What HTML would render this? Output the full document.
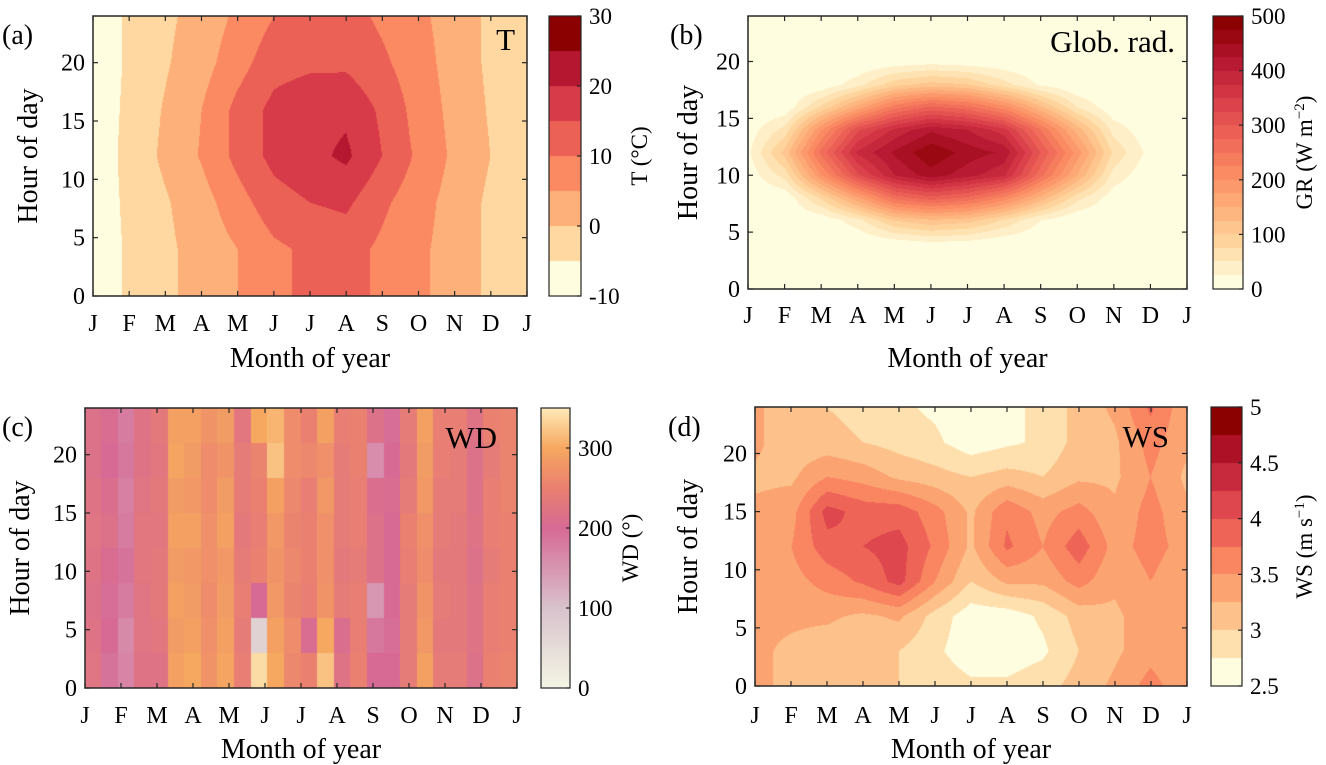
<!DOCTYPE html>
<html><head><meta charset="utf-8">
<style>
body{margin:0;background:#fff;width:1326px;height:765px;overflow:hidden;position:relative;font-family:"Liberation Serif",serif;color:#000}
svg{position:absolute;left:0;top:0}
canvas{position:absolute}
</style></head><body>
<canvas id="cA"></canvas>
<canvas id="cB"></canvas>
<canvas id="cC"></canvas>
<canvas id="cD"></canvas>
<canvas id="kA"></canvas>
<canvas id="kB"></canvas>
<canvas id="kC"></canvas>
<canvas id="kD"></canvas>
<svg id="ov" width="1326" height="765"></svg>
<script>
const months=["J","F","M","A","M","J","J","A","S","O","N","D","J"];
const hourTicks=[0,5,10,15,20];
// T: rows = months J..J, values at hours 0,4,8,12,16,20,24
const tHours=[0,4,8,12,16,20,24];
const tVals=[
[-9,-9,-9,-9,-9,-9,-9],
[-4,-4,-3.5,-3,-3.5,-4,-4],
[-1,-1,-0.5,1,0.5,-0.5,-1],
[2,2,3,5.5,5,3,2],
[5,5,8,11.5,11.5,8,6],
[9,9,13,16.5,16.5,13,10],
[11,11,15,18.5,18.5,14,12],
[12,12,16,21,19,14,12],
[9,9,11,15,14,11,9],
[6,6,7,9,8,7,6],
[3,3,3,4,3.5,3,3],
[-1,-1,-1,0,-0.5,-1,-1],
[-3.5,-3.5,-3.5,-3.5,-3.5,-3.5,-3.5]];
const tTicks=[-10,0,10,20,30];
// GR at hours 0,2,...,24
const gHours=[0,2,4,6,8,10,12,14,16,18,20,22,24];
const gVals=[
[0,0,0,0,0,10,20,10,0,0,0,0,0],
[0,0,0,0,5,60,110,60,5,0,0,0,0],
[0,0,0,5,80,200,260,200,80,5,0,0,0],
[0,0,0,40,170,320,380,320,160,40,0,0,0],
[0,0,10,100,260,400,430,380,240,90,10,0,0],
[0,0,20,120,290,440,470,420,280,110,15,0,0],
[0,0,15,110,270,410,440,400,260,100,10,0,0],
[0,0,5,70,220,380,420,360,210,60,5,0,0],
[0,0,0,25,140,260,300,250,130,20,0,0,0],
[0,0,0,0,60,150,190,140,50,0,0,0,0],
[0,0,0,0,10,40,70,40,5,0,0,0,0],
[0,0,0,0,0,5,15,5,0,0,0,0,0],
[0,0,0,0,0,10,20,10,0,0,0,0,0]];
const gTicks=[0,100,200,300,400,500];
// WD: 26 half-month columns, 8 three-hour bins (bottom to top)
const wdVals=[
[225,220,215,220,225,220,215,215],
[190,200,195,205,215,210,200,205],
[170,165,180,190,180,175,185,180],
[220,225,225,230,230,225,220,220],
[220,230,235,235,230,235,230,235],
[290,285,290,285,290,285,295,290],
[300,290,285,280,290,280,285,290],
[275,270,265,270,270,265,265,275],
[295,290,285,280,290,285,275,285],
[245,240,245,240,235,240,240,230],
[340,70,200,250,245,250,255,300],
[300,290,280,275,280,290,320,310],
[260,265,255,260,255,260,265,265],
[250,205,245,250,250,245,260,250],
[320,300,275,270,270,280,270,290],
[220,210,240,235,240,240,240,245],
[250,245,245,240,245,245,250,250],
[200,185,150,215,215,210,160,215],
[200,195,200,200,200,205,200,195],
[240,240,240,245,250,240,235,240],
[290,280,275,265,270,280,285,290],
[240,235,240,235,240,240,245,245],
[240,235,235,235,235,240,240,245],
[215,220,220,215,220,215,215,220],
[250,245,245,240,245,245,240,250],
[255,250,250,250,250,255,255,255]];
const wdTicks=[0,100,200,300];
// WS at hours 0,3,...,24
const wsHours=[0,3,6,9,12,15,18,21,24];
const wsVals=[
[3.3,3.3,3.3,3.3,3.4,3.3,3.2,3.3,3.3],
[3.2,3.2,3.3,3.4,3.5,3.4,3.2,3.1,3.1],
[3.2,3.1,3.3,3.6,3.9,4.1,3.5,3.1,3.0],
[3.1,3.0,3.2,3.8,4.0,3.9,3.4,3.0,2.9],
[3.0,3.0,3.3,4.1,4.1,3.9,3.2,2.9,2.8],
[2.9,2.8,2.9,3.5,3.7,3.6,3.1,2.8,2.7],
[2.8,2.6,2.6,3.0,3.2,3.2,3.0,2.6,2.6],
[2.8,2.6,2.6,3.3,3.8,3.7,3.1,2.7,2.7],
[2.9,2.7,2.8,3.3,3.5,3.4,3.0,2.8,2.8],
[3.1,3.0,3.1,3.6,3.9,3.6,3.2,3.1,3.1],
[3.3,3.2,3.2,3.3,3.4,3.3,3.2,3.2,3.3],
[3.6,3.4,3.4,3.5,3.6,3.6,3.5,3.6,3.8],
[3.3,3.3,3.3,3.3,3.4,3.3,3.2,3.3,3.3]];
const wsTicks=[2.5,3,3.5,4,4.5,5];
const wsTickLabels=["2.5","3","3.5","4","4.5","5"];

const ramp=[[255,253,224],[254,216,160],[253,176,122],[251,137,98],[236,97,86],[215,58,72],[181,22,48],[139,0,0]];
function rampColor(t){t=Math.max(0,Math.min(1,t));const p=t*(ramp.length-1);const i=Math.min(ramp.length-2,Math.floor(p));const f=p-i;return ramp[i].map((c,k)=>Math.round(c+(ramp[i+1][k]-c)*f));}
const wdStops=[[0,[243,246,228]],[100,[216,194,204]],[200,[214,106,149]],[250,[234,128,112]],[300,[246,168,96]],[360,[255,246,200]]];
function wdColor(v){for(let i=0;i<wdStops.length-1;i++){const a=wdStops[i],b=wdStops[i+1];if(v<=b[0]){const f=Math.max(0,(v-a[0])/(b[0]-a[0]));return a[1].map((c,k)=>Math.round(c+(b[1][k]-c)*f));}}return wdStops[wdStops.length-1][1];}

function place(id,x,y,w,h){const c=document.getElementById(id);c.width=w;c.height=h;c.style.left=x+'px';c.style.top=y+'px';return c.getContext('2d');}
function interp(vals,hours,mx,hr){const i=Math.min(vals.length-2,Math.floor(mx));const fx=mx-i;let j=0;while(j<hours.length-2&&hr>hours[j+1])j++;const fy=(hr-hours[j])/(hours[j+1]-hours[j]);
 const a=vals[i][j]*(1-fy)+vals[i][j+1]*fy,b=vals[i+1][j]*(1-fy)+vals[i+1][j+1]*fy;return a*(1-fx)+b*fx;}
function contour(id,P,vals,hours,vmin,vmax,nlev){const w=P.R-P.L,h=P.B-P.T;const ctx=place(id,P.L,P.T,w,h);const img=ctx.createImageData(w,h);
 for(let y=0;y<h;y++)for(let x=0;x<w;x++){const mx=x/(w-1)*12,hr=(h-1-y)/(h-1)*24;const v=interp(vals,hours,mx,hr);let lv=Math.floor((v-vmin)/(vmax-vmin)*nlev);lv=Math.max(0,Math.min(nlev-1,lv));const c=rampColor(lv/(nlev-1));const o=(y*w+x)*4;img.data[o]=c[0];img.data[o+1]=c[1];img.data[o+2]=c[2];img.data[o+3]=255;}
 ctx.putImageData(img,0,0);}
function cbar(id,x,y,w,h,nlev,fn){const ctx=place(id,x,y,w,h);for(let i=0;i<h;i++){const t=1-i/(h-1);let c;if(nlev){let lv=Math.min(nlev-1,Math.floor(t*nlev));c=rampColor(lv/(nlev-1));}else c=fn(t);ctx.fillStyle=`rgb(${c})`;ctx.fillRect(0,i,w,1);}}

const PA={L:93,T:16,R:527,B:296},PB={L:748,T:16,R:1187,B:289},PC={L:85,T:408,R:517,B:688},PD={L:755,T:407,R:1187,B:686};
contour('cA',PA,tVals,tHours,-10,30,8);
contour('cB',PB,gVals,gHours,0,500,20);
contour('cD',PD,wsVals,wsHours,2.5,5,10);
(function(){const P=PC,w=P.R-P.L,h=P.B-P.T;const ctx=place('cC',P.L,P.T,w,h);const nc=wdVals.length,nr=wdVals[0].length;
 for(let i=0;i<nc;i++)for(let j=0;j<nr;j++){ctx.fillStyle=`rgb(${wdColor(wdVals[i][j])})`;const x0=Math.floor(i*w/nc),x1=Math.ceil((i+1)*w/nc);const y1=h-Math.floor(j*h/nr),y0=h-Math.ceil((j+1)*h/nr);ctx.fillRect(x0,y0,x1-x0,y1-y0);}})();
const CA={x:549,T:16,B:296,w:32},CB={x:1213,T:16,B:289,w:30},CC={x:541,T:408,B:688,w:29},CD={x:1211,T:407,B:686,w:31};
cbar('kA',CA.x,CA.T,CA.w,CA.B-CA.T,8);
cbar('kB',CB.x,CB.T,CB.w,CB.B-CB.T,20);
cbar('kC',CC.x,CC.T,CC.w,CC.B-CC.T,0,t=>wdColor(t*350));
cbar('kD',CD.x,CD.T,CD.w,CD.B-CD.T,10);

const NS='http://www.w3.org/2000/svg';const ov=document.getElementById('ov');
function el(tag,attrs,txt){const e=document.createElementNS(NS,tag);for(const k in attrs)e.setAttribute(k,attrs[k]);if(txt!==undefined)e.textContent=txt;ov.appendChild(e);return e;}
function axes(P,pre,tickY,xTitleY,yTitleX){
 const g=el('rect',{x:P.L,y:P.T,width:P.R-P.L,height:P.B-P.T,fill:'none',stroke:'#262626','stroke-width':1.5});
 
 months.forEach((m,i)=>{const x=P.L+i*(P.R-P.L)/12;
  el('line',{x1:x,x2:x,y1:P.B,y2:P.B-5,stroke:'#262626','stroke-width':1.2});
  el('line',{x1:x,x2:x,y1:P.T,y2:P.T+5,stroke:'#262626','stroke-width':1.2});
  const t=el('text',{x:x,y:tickY,'font-size':24,'text-anchor':'middle'},m);
  });
 hourTicks.forEach(hv=>{const y=P.B-hv/24*(P.B-P.T);
  el('line',{x1:P.L,x2:P.L+5,y1:y,y2:y,stroke:'#262626','stroke-width':1.2});
  el('line',{x1:P.R,x2:P.R-5,y1:y,y2:y,stroke:'#262626','stroke-width':1.2});
  const t=el('text',{x:P.L-8,y:y+8,'font-size':24,'text-anchor':'end'},hv);
  });
 const xt=el('text',{x:(P.L+P.R)/2,y:xTitleY,'font-size':28,'text-anchor':'middle'},'Month of year');
 
 const yc=(P.T+P.B)/2;const yt=el('text',{x:yTitleX,y:yc,'font-size':28,'text-anchor':'middle',transform:`rotate(-90 ${yTitleX} ${yc})`},'Hour of day');
 }
axes(PA,'panel-a',331,367,37);
axes(PB,'panel-b',323,367,697);
axes(PC,'panel-c',723,758,29);
axes(PD,'panel-d',723,758,697);
function cbAxis(C,pre,ticks,labels,vmin,vmax,title,tx){
 const r=el('rect',{x:C.x,y:C.T,width:C.w,height:C.B-C.T,fill:'none',stroke:'#262626','stroke-width':1.2});
 
 ticks.forEach((v,i)=>{const y=C.B-(v-vmin)/(vmax-vmin)*(C.B-C.T);
  el('line',{x1:C.x+C.w-4,x2:C.x+C.w,y1:y,y2:y,stroke:'#262626','stroke-width':1.2});
  const t=el('text',{x:C.x+C.w+8,y:y+8,'font-size':23},labels[i]);
  });
 const yc=(C.T+C.B)/2;const t=el('text',{x:tx,y:yc,'font-size':23,'text-anchor':'middle',transform:`rotate(-90 ${tx} ${yc})`});
 t.innerHTML=title;}
cbAxis(CA,'panel-a',tTicks,tTicks.map(String),-10,30,'T (°C)',647);
cbAxis(CB,'panel-b',gTicks,gTicks.map(String),0,500,'GR (W m<tspan dy="-8" font-size="15">−2</tspan><tspan dy="8">)</tspan>',1312);
cbAxis(CC,'panel-c',wdTicks,wdTicks.map(String),0,350,'WD (°)',638);
cbAxis(CD,'panel-d',wsTicks,wsTickLabels,2.5,5,'WS (m s<tspan dy="-8" font-size="15">−1</tspan><tspan dy="8">)</tspan>',1312);
[['(a)',2,44],['(b)',670,44],['(c)',2,436],['(d)',668,436]].forEach(([s,x,y])=>{const t=el('text',{x:x,y:y,'font-size':28},s);
 });
[['T',PA.R-12,PA.T+34],['Glob. rad.',PB.R-12,PB.T+36],['WD',PC.R-20,PC.T+40],['WS',PD.R-18,PD.T+40]].forEach(([s,x,y])=>{const t=el('text',{x:x,y:y,'font-size':31,'text-anchor':'end'},s);
 });
</script>
</body></html>
